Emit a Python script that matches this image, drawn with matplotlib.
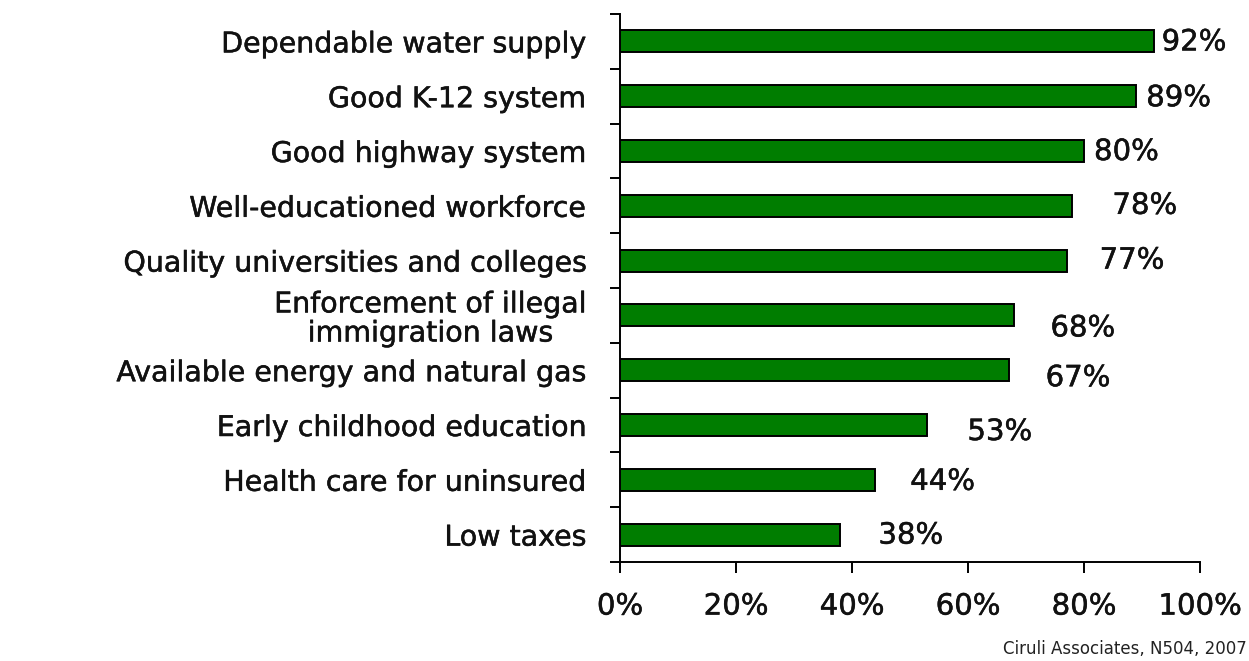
import matplotlib
matplotlib.use("Agg")
import matplotlib.pyplot as plt
import matplotlib.patheffects as pe
from matplotlib.ticker import FixedLocator, PercentFormatter

# Survey results: share of respondents rating each item important
categories = [
    "Dependable water supply",
    "Good K-12 system",
    "Good highway system",
    "Well-educationed workforce",
    "Quality universities and colleges",
    "Enforcement of illegal\nimmigration laws",
    "Available energy and natural gas",
    "Early childhood education",
    "Health care for uninsured",
    "Low taxes",
]
values = [92, 89, 80, 78, 77, 68, 67, 53, 44, 38]
value_labels = ["92%", "89%", "80%", "78%", "77%", "68%", "67%", "53%", "44%", "38%"]
x_ticks = [0, 20, 40, 60, 80, 100]
source_note = "Ciruli Associates, N504, 2007"

# label offsets from bar ends, in pixels (dx, dy)
label_offsets = [(8, -1), (10, -2), (10, -1), (40, 0), (33, 0),
                 (36, -13), (37, -8), (40, -7), (35, -2), (38, -1)]

plt.rcParams["font.family"] = ["DejaVu Sans"]
TXT = "#111111"
# slightly heavier strokes for all text
heavy = [pe.withStroke(linewidth=0.35, foreground=TXT)]

fig = plt.figure(figsize=(12.49, 6.61), dpi=100)
ax = fig.add_axes([620 / 1249, 1 - 562 / 661, 580 / 1249, (562 - 14) / 661])

pos = list(range(len(categories)))
ax.barh(pos, values, height=0.4, color="#007d00", edgecolor="black", linewidth=1.4)

ax.set_xlim(0, 100)
ax.set_ylim(len(categories) - 0.5, -0.5)

for p, v, lab, (dx, dy) in zip(pos, values, value_labels, label_offsets):
    ax.annotate(lab, xy=(v, p), xytext=(dx, dy), textcoords="offset pixels",
                ha="left", va="center", fontsize=21, color=TXT, path_effects=heavy)

# y axis: labels at bar centres, tick marks at category boundaries
ax.set_yticks(pos)
ax.set_yticklabels(categories, fontsize=20.5, color=TXT)
for t in ax.get_yticklabels():
    t.set_multialignment("center")
    t.set_linespacing(1.05)
    t.set_path_effects(heavy)
ax.tick_params(axis="y", which="major", length=0, pad=24)
ax.yaxis.set_minor_locator(FixedLocator([p - 0.5 for p in pos] + [len(pos) - 0.5]))
ax.tick_params(axis="y", which="minor", length=7, width=1.4, direction="out", color="black")

ax.set_xticks(x_ticks)
ax.xaxis.set_major_formatter(PercentFormatter(decimals=0))
ax.tick_params(axis="x", length=8, width=1.4, direction="out", pad=14,
               labelsize=21, labelcolor=TXT)
for t in ax.get_xticklabels():
    t.set_path_effects(heavy)

for s in ("top", "right"):
    ax.spines[s].set_visible(False)
for s in ("left", "bottom"):
    ax.spines[s].set_linewidth(1.4)

fig.text(1247 / 1249, 1 - 649 / 661, source_note, ha="right", va="center",
         fontsize=12, color="#222222")

fig.savefig("out.png", dpi=100)
